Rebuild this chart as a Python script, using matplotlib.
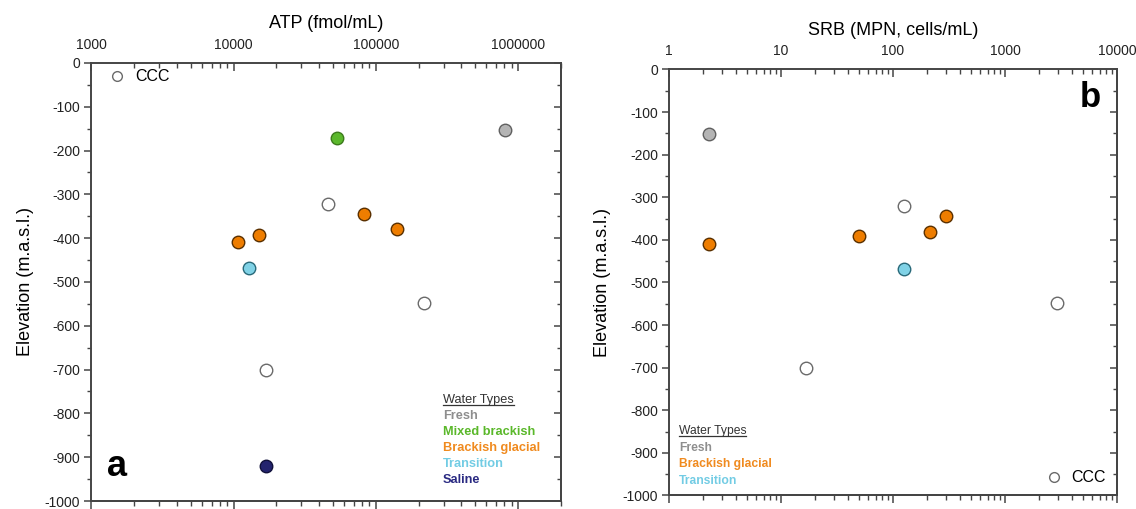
import matplotlib
matplotlib.use('Agg')
import matplotlib.pyplot as plt
from matplotlib.ticker import LogLocator, FuncFormatter, MultipleLocator, NullFormatter
from matplotlib.lines import Line2D

plt.rcParams['font.family'] = ['Liberation Sans', 'DejaVu Sans']
plt.rcParams['axes.unicode_minus'] = False

# panel a: ATP
atp_values = [8.1e5, 5.36e4, 4.63e4, 8.2e4, 1.41e5, 1.08e4, 1.50e4, 1.29e4, 2.2e5, 1.70e4, 1.69e4]
atp_elev = [-152, -172, -323, -344, -380, -409, -392, -469, -549, -700, -920]
atp_types = ['Fresh', 'Mixed brackish', 'CCC', 'Brackish glacial', 'Brackish glacial',
             'Brackish glacial', 'Brackish glacial', 'Transition', 'CCC', 'CCC', 'Saline']

# panel b: SRB
srb_values = [2.29, 2.29, 16.7, 49.4, 126, 126, 215, 295, 2930]
srb_elev = [-151, -409, -700, -392, -321, -469, -381, -343, -549]
srb_types = ['Fresh', 'Brackish glacial', 'CCC', 'Brackish glacial', 'CCC',
             'Transition', 'Brackish glacial', 'Brackish glacial', 'CCC']

fill = {'Fresh': '#b4b4b4', 'Mixed brackish': '#5bb82c', 'Brackish glacial': '#ee7d00',
        'Transition': '#80d2e6', 'Saline': '#23236e', 'CCC': 'white'}
edge = {'Fresh': '#606060', 'Mixed brackish': '#3c7a1c', 'Brackish glacial': '#5a3000',
        'Transition': '#2a6a7a', 'Saline': '#10103a', 'CCC': '#6a6a6a'}
text_col = {'Fresh': '#8e8e8e', 'Mixed brackish': '#5ab82a', 'Brackish glacial': '#f08a1e',
            'Transition': '#72cce4', 'Saline': '#2a2a82'}

axc = '#454545'


def log_ticks(axis):
    axis.set_major_locator(LogLocator(base=10, numticks=10))
    axis.set_minor_locator(LogLocator(base=10, subs=range(2, 10), numticks=10))


def style_axes(ax, xlim):
    ax.set_xscale('log')
    ax.set_xlim(*xlim)
    ax.set_ylim(-1000, 0)
    ax.xaxis.set_ticks_position('top')
    ax.xaxis.set_label_position('top')
    log_ticks(ax.xaxis)
    ax.xaxis.set_major_formatter(FuncFormatter(lambda v, p: '%d' % round(v)))
    ax.yaxis.set_major_locator(MultipleLocator(100))
    ax.yaxis.set_minor_locator(MultipleLocator(50))
    ax.tick_params(axis='x', which='both', top=True, bottom=False, labeltop=True,
                   labelbottom=False, direction='in', colors=axc, labelcolor='#222222',
                   labelsize=10, pad=8)
    ax.tick_params(axis='x', which='major', length=6, width=1.1)
    ax.tick_params(axis='x', which='minor', length=3.5, width=1.0)
    ax.tick_params(axis='y', which='both', left=True, right=False, direction='out',
                   colors=axc, labelcolor='#222222', labelsize=10, pad=3)
    ax.tick_params(axis='y', which='major', length=5, width=1.1)
    ax.tick_params(axis='y', which='minor', length=3, width=1.0)
    for sp in ax.spines.values():
        sp.set_color(axc)
        sp.set_linewidth(1.4)
    ax.set_ylabel('Elevation (m.a.s.l.)', fontsize=13, labelpad=8)

    # bottom ticks point out, right ticks point in
    sb = ax.secondary_xaxis('bottom')
    log_ticks(sb.xaxis)
    sb.xaxis.set_major_formatter(NullFormatter())
    sb.xaxis.set_minor_formatter(NullFormatter())
    sb.tick_params(axis='x', which='both', direction='out', colors=axc)
    sb.tick_params(axis='x', which='major', length=6, width=1.1)
    sb.tick_params(axis='x', which='minor', length=3.5, width=1.0)
    sb.spines['bottom'].set_color(axc)
    sb.spines['bottom'].set_linewidth(1.4)

    sr = ax.secondary_yaxis('right')
    sr.yaxis.set_major_locator(MultipleLocator(100))
    sr.yaxis.set_minor_locator(MultipleLocator(50))
    sr.yaxis.set_major_formatter(NullFormatter())
    sr.tick_params(axis='y', which='both', direction='in', colors=axc)
    sr.tick_params(axis='y', which='major', length=5, width=1.1)
    sr.tick_params(axis='y', which='minor', length=3, width=1.0)
    sr.spines['right'].set_color(axc)
    sr.spines['right'].set_linewidth(1.4)


def draw_points(ax, xs, ys, types):
    for x, y, t in zip(xs, ys, types):
        ax.plot(x, y, 'o', ms=9, mfc=fill[t], mec=edge[t], mew=1.0, zorder=3)


def water_legend(ax, x0, y0, dy, names, size):
    t = ax.text(x0, y0, 'Water Types', transform=ax.transAxes,
                fontsize=size, color='#333333', va='center')
    # underline the heading
    r = fig.canvas.get_renderer()
    bb = t.get_window_extent(renderer=r).transformed(ax.transAxes.inverted())
    ax.plot([bb.x0, bb.x1], [bb.y0 + 0.003, bb.y0 + 0.003], color='#333333', lw=0.9,
            transform=ax.transAxes, clip_on=False)
    for i, n in enumerate(names):
        ax.text(x0, y0 - dy * (i + 1), n, transform=ax.transAxes, fontsize=size,
                color=text_col[n], fontweight='bold', va='center')


fig = plt.figure(figsize=(11.36, 5.09), dpi=100)
ax1 = fig.add_axes([0.0804, 0.0157, 0.4133, 0.8606])
ax2 = fig.add_axes([0.5889, 0.0267, 0.3944, 0.8369])

ccc = Line2D([], [], marker='o', ls='', ms=7, mfc='white', mec='#6a6a6a', mew=1.0)

# a
style_axes(ax1, (1000, 2e6))
ax1.set_xlabel('ATP (fmol/mL)', fontsize=13, labelpad=7)
draw_points(ax1, atp_values, atp_elev, atp_types)
ax1.legend([ccc], ['CCC'], loc='center left', bbox_to_anchor=(0.035, 0.968), frameon=False,
           fontsize=11.5, handletextpad=0.5, borderaxespad=0, borderpad=0, handlelength=1.2)
water_legend(ax1, 0.749, 0.231, 0.0366,
             ['Fresh', 'Mixed brackish', 'Brackish glacial', 'Transition', 'Saline'], 9.2)
ax1.text(0.034, 0.078, 'a', transform=ax1.transAxes, fontsize=26, fontweight='bold',
         va='center', ha='left')

# b
style_axes(ax2, (1, 10000))
ax2.set_xlabel('SRB (MPN, cells/mL)', fontsize=13, labelpad=7)
draw_points(ax2, srb_values, srb_elev, srb_types)
ax2.legend([ccc], ['CCC'], loc='center left', bbox_to_anchor=(0.837, 0.041), frameon=False,
           fontsize=11.5, handletextpad=0.5, borderaxespad=0, borderpad=0, handlelength=1.2)
water_legend(ax2, 0.022, 0.151, 0.0387, ['Fresh', 'Brackish glacial', 'Transition'], 8.7)
ax2.text(0.963, 0.935, 'b', transform=ax2.transAxes, fontsize=25, fontweight='bold',
         va='center', ha='right')

fig.savefig('out.png', dpi=100)
